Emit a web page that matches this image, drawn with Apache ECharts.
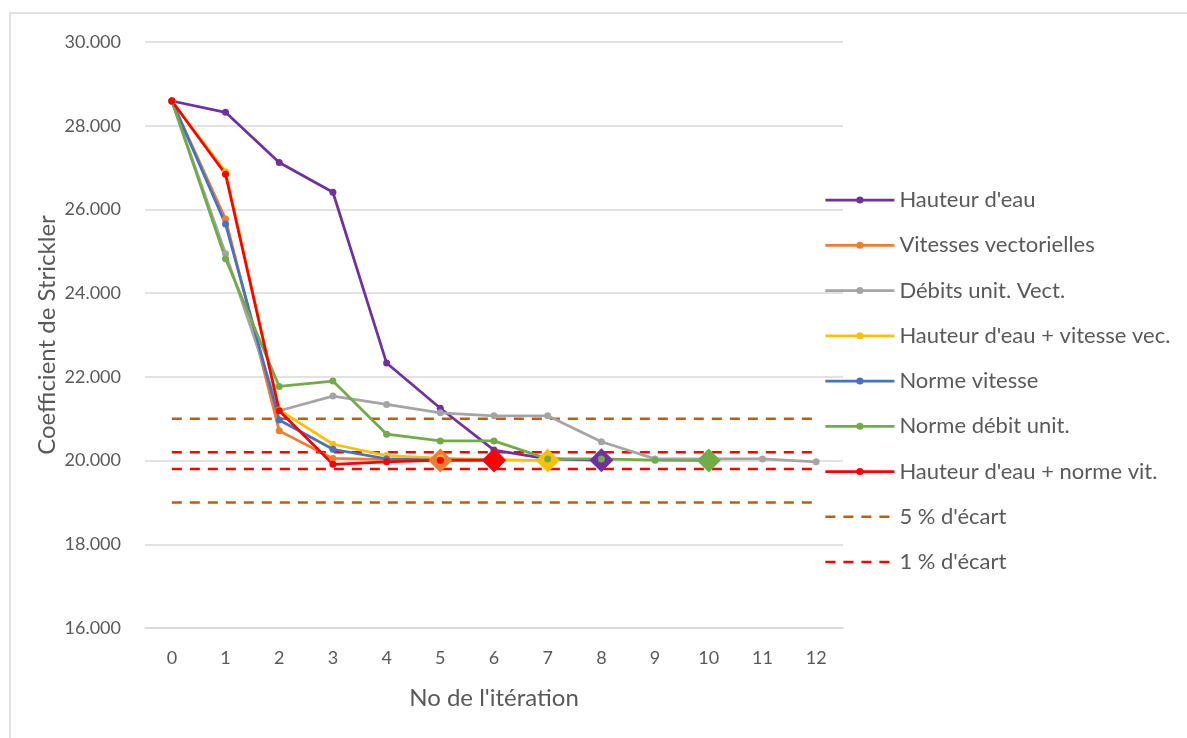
<!DOCTYPE html>
<html>
<head>
<meta charset="utf-8">
<script src="https://cdn.jsdelivr.net/npm/echarts@6/dist/echarts.min.js"></script>
<style>
  html, body { margin: 0; padding: 0; background: #fff; }
  #chart { width: 1187px; height: 738px; }
</style>
</head>
<body>
<div id="chart"></div>
<script>
// Iteration numbers (x categories)
const iterations = ['0', '1', '2', '3', '4', '5', '6', '7', '8', '9', '10', '11', '12'];

// Strickler coefficient per iteration, one list per calibration criterion
const hauteurEau        = [28.59, 28.32, 27.12, 26.41, 22.33, 21.25, 20.25, 20.04, 20.01];
const vitessesVect      = [28.59, 25.77, 20.71, 20.05, 20.02, 20.00];
const debitsUnitVect    = [28.59, 24.95, 21.19, 21.54, 21.34, 21.14, 21.07, 21.07, 20.45, 20.04, 20.04, 20.04, 19.97];
const hauteurVitesseVec = [28.59, 26.90, 21.21, 20.39, 20.12, 20.06, 20.02, 20.00];
const normeVitesse      = [28.59, 25.65, 20.97, 20.27, 20.04, 20.01, 20.01];
const normeDebitUnit    = [28.59, 24.82, 21.77, 21.90, 20.63, 20.47, 20.47, 20.04, 20.04, 20.01, 20.00];
const hauteurNormeVit   = [28.59, 26.84, 21.19, 19.91, 19.97, 20.01, 20.01];

// Tolerance bands around the target value 20
const ecart5Haut = [21, 21, 21, 21, 21, 21, 21, 21, 21, 21, 21, 21, 21];
const ecart5Bas  = [19, 19, 19, 19, 19, 19, 19, 19, 19, 19, 19, 19, 19];
const ecart1Haut = [20.2, 20.2, 20.2, 20.2, 20.2, 20.2, 20.2, 20.2, 20.2, 20.2, 20.2, 20.2, 20.2];
const ecart1Bas  = [19.8, 19.8, 19.8, 19.8, 19.8, 19.8, 19.8, 19.8, 19.8, 19.8, 19.8, 19.8, 19.8];

// Y axis ticks
const yMin = 16, yMax = 30, yStep = 2;

const textColor = '#595959';
const font = 'Lato';

// Converging series: small round markers, a large diamond on the final iteration
function convergence(name, values, color, finalDiamond) {
  const last = values.length - 1;
  return {
    name: name,
    type: 'line',
    data: values.map((v, i) => (finalDiamond && i === last)
      ? { value: v, symbol: 'diamond', symbolSize: 24 }
      : v),
    symbol: 'circle',
    symbolSize: 7,
    showAllSymbol: true,
    lineStyle: { color: color, width: 2.75 },
    itemStyle: { color: color },
    emphasis: { disabled: true },
    z: 3
  };
}

function band(name, values, color) {
  return {
    name: name,
    type: 'line',
    data: values,
    symbol: 'none',
    lineStyle: { color: color, width: 2.5, type: [10, 8] },
    itemStyle: { color: color },
    emphasis: { disabled: true },
    z: 2
  };
}

const legendNames = ["Hauteur d'eau", 'Vitesses vectorielles', 'Débits unit. Vect.',
                     "Hauteur d'eau + vitesse vec.", 'Norme vitesse', 'Norme débit unit.',
                     "Hauteur d'eau + norme vit."];
const legendBands = ["5 % d'écart", "1 % d'écart"];

const chart = echarts.init(document.getElementById('chart'), null, { renderer: 'canvas' });

chart.setOption({
  animation: false,
  backgroundColor: '#ffffff',
  textStyle: { fontFamily: font },
  graphic: [{
    type: 'rect',
    shape: { x: 10, y: 13, width: 1400, height: 900 },
    style: { fill: 'none', stroke: '#D9D9D9', lineWidth: 1.5 },
    silent: true
  }],
  grid: { left: 145, right: 344, top: 42, bottom: 110, containLabel: false },
  legend: {
    orient: 'vertical',
    left: 819,
    top: 184,
    itemWidth: 69,
    itemHeight: 9,
    itemGap: 23.25,
    textStyle: { color: textColor, fontSize: 22, fontFamily: font },
    data: legendNames.map(n => ({ name: n, lineStyle: { width: 2.75 } }))
      .concat(legendBands.map(n => ({ name: n, itemStyle: { opacity: 0 }, lineStyle: { width: 2.5 } })))
  },
  xAxis: {
    type: 'category',
    data: iterations,
    boundaryGap: true,
    axisLine: { show: true, lineStyle: { color: '#D9D9D9', width: 1.5 } },
    axisTick: { show: false },
    axisLabel: { color: textColor, fontSize: 18, margin: 21, fontFamily: font },
    name: "No de l'itération",
    nameLocation: 'middle',
    nameGap: 58,
    nameMoveOverlap: false,
    nameTextStyle: { color: textColor, fontSize: 24, fontFamily: font }
  },
  yAxis: {
    type: 'value',
    min: yMin,
    max: yMax,
    interval: yStep,
    axisLine: { show: false },
    axisTick: { show: false },
    splitLine: { lineStyle: { color: '#D9D9D9', width: 1.5 } },
    axisLabel: {
      color: textColor, fontSize: 18, margin: 24, fontFamily: font,
      formatter: v => v.toFixed(3)
    },
    name: 'Coefficient de Strickler',
    nameLocation: 'middle',
    nameGap: 86,
    nameMoveOverlap: false,
    nameTextStyle: { color: textColor, fontSize: 24, fontFamily: font }
  },
  series: [
    convergence("Hauteur d'eau", hauteurEau, '#7030A0', true),
    convergence('Vitesses vectorielles', vitessesVect, '#ED7D31', true),
    convergence('Débits unit. Vect.', debitsUnitVect, '#A5A5A5', false),
    convergence("Hauteur d'eau + vitesse vec.", hauteurVitesseVec, '#FFC000', true),
    convergence('Norme vitesse', normeVitesse, '#4472C4', true),
    convergence('Norme débit unit.', normeDebitUnit, '#70AD47', true),
    convergence("Hauteur d'eau + norme vit.", hauteurNormeVit, '#FF0000', true),
    band("5 % d'écart", ecart5Haut, '#C55A11'),
    band("5 % d'écart", ecart5Bas, '#C55A11'),
    band("1 % d'écart", ecart1Haut, '#FF0000'),
    band("1 % d'écart", ecart1Bas, '#FF0000')
  ]
});
</script>
</body>
</html>
